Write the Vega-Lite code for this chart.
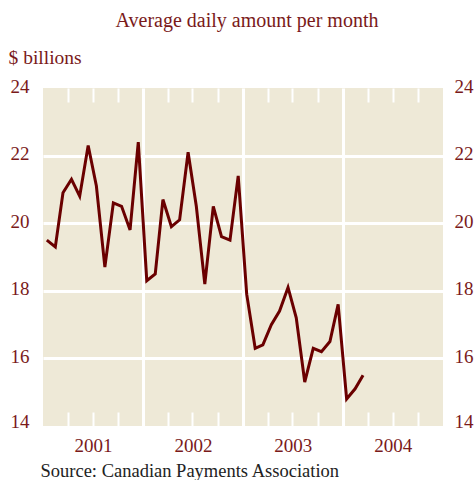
{
  "$schema": "https://vega.github.io/schema/vega-lite/v6.json",
  "width": 400,
  "height": 338,
  "autosize": {"type": "none"},
  "padding": {"left": 43, "top": 88, "right": 32, "bottom": 54},
  "background": "white",
  "config": {
    "view": {"fill": "#eee9d7", "stroke": null},
    "font": "Liberation Serif",
    "axis": {"labelFont": "Liberation Serif", "labelFontSize": 19, "labelColor": "#7a1a1a", "titleFont": "Liberation Serif", "titleFontWeight": "normal"}
  },
  "title": {
    "text": "Average daily amount per month",
    "font": "Liberation Serif",
    "fontSize": 20,
    "fontWeight": "normal",
    "color": "#7a1a1a",
    "anchor": "middle",
    "baseline": "alphabetic",
    "offset": 0,
    "dx": 4
  },
  "data": {
    "values": [
      {"date": "2001-01-15", "value": 19.5},
      {"date": "2001-02-15", "value": 19.3},
      {"date": "2001-03-15", "value": 20.9},
      {"date": "2001-04-15", "value": 21.3},
      {"date": "2001-05-15", "value": 20.8},
      {"date": "2001-06-15", "value": 22.3},
      {"date": "2001-07-15", "value": 21.1},
      {"date": "2001-08-15", "value": 18.7},
      {"date": "2001-09-15", "value": 20.6},
      {"date": "2001-10-15", "value": 20.5},
      {"date": "2001-11-15", "value": 19.8},
      {"date": "2001-12-15", "value": 22.4},
      {"date": "2002-01-15", "value": 18.3},
      {"date": "2002-02-15", "value": 18.5},
      {"date": "2002-03-15", "value": 20.7},
      {"date": "2002-04-15", "value": 19.9},
      {"date": "2002-05-15", "value": 20.1},
      {"date": "2002-06-15", "value": 22.1},
      {"date": "2002-07-15", "value": 20.5},
      {"date": "2002-08-15", "value": 18.2},
      {"date": "2002-09-15", "value": 20.5},
      {"date": "2002-10-15", "value": 19.6},
      {"date": "2002-11-15", "value": 19.5},
      {"date": "2002-12-15", "value": 21.4},
      {"date": "2003-01-15", "value": 17.9},
      {"date": "2003-02-15", "value": 16.3},
      {"date": "2003-03-15", "value": 16.4},
      {"date": "2003-04-15", "value": 17.0},
      {"date": "2003-05-15", "value": 17.4},
      {"date": "2003-06-15", "value": 18.1},
      {"date": "2003-07-15", "value": 17.2},
      {"date": "2003-08-15", "value": 15.3},
      {"date": "2003-09-15", "value": 16.3},
      {"date": "2003-10-15", "value": 16.2},
      {"date": "2003-11-15", "value": 16.5},
      {"date": "2003-12-15", "value": 17.6},
      {"date": "2004-01-15", "value": 14.8},
      {"date": "2004-02-15", "value": 15.1},
      {"date": "2004-03-15", "value": 15.5}
    ]
  },
  "resolve": {"axis": {"x": "independent", "y": "independent"}},
  "layer": [
    {
      "mark": {"type": "line", "color": "#6a0000", "strokeWidth": 3, "strokeJoin": "miter", "clip": true},
      "encoding": {
        "x": {
          "field": "date", "type": "temporal",
          "scale": {"type": "utc", "domain": [{"year": 2001, "month": 1, "date": 1, "utc": true}, {"year": 2005, "month": 1, "date": 1, "utc": true}]},
          "axis": {
            "orient": "bottom",
            "values": [
              {"year": 2001, "month": 1, "date": 1, "utc": true},
              {"year": 2002, "month": 1, "date": 1, "utc": true},
              {"year": 2003, "month": 1, "date": 1, "utc": true},
              {"year": 2004, "month": 1, "date": 1, "utc": true}
            ],
            "format": "%Y",
            "labelOffset": 50,
            "labelPadding": 25,
            "labelBaseline": "alphabetic",
            "labelAlign": "center",
            "ticks": false,
            "tickSize": 0,
            "domain": false,
            "grid": true,
            "gridColor": "white",
            "gridWidth": 3,
            "gridOpacity": {"condition": {"test": "utcyear(datum.value) > 2001", "value": 1}, "value": 0},
            "title": "Source: Canadian Payments Association",
            "titleFontSize": 18.5,
            "titleColor": "#222222",
            "titleAlign": "left",
            "titleAnchor": "start",
            "titleBaseline": "alphabetic",
            "titleX": -3,
            "titleY": 50
          }
        },
        "y": {
          "field": "value", "type": "quantitative",
          "scale": {"domain": [14, 24], "nice": false, "zero": false},
          "axis": {
            "orient": "left",
            "values": [14, 16, 18, 20, 22, 24],
            "ticks": false,
            "tickSize": 0,
            "domain": false,
            "labelPadding": 14,
            "labelAlign": "right",
            "labelBaseline": "middle",
            "labelOffset": {"condition": {"test": "datum.value == 14", "value": -5}, "value": -2},
            "grid": true,
            "gridColor": "white",
            "gridWidth": 3,
            "gridOpacity": {"condition": {"test": "datum.value > 14 && datum.value < 24", "value": 1}, "value": 0},
            "title": "$ billions",
            "titleFontSize": 19.5,
            "titleColor": "#7a1a1a",
            "titleAngle": 0,
            "titleAlign": "left",
            "titleBaseline": "alphabetic",
            "titleX": -35,
            "titleY": -25
          }
        }
      }
    },
    {
      "mark": {"type": "line", "strokeOpacity": 0},
      "encoding": {
        "x": {
          "field": "date", "type": "temporal",
          "axis": {
            "orient": "top",
            "values": [
              {"year": 2001, "month": 4, "date": 1, "utc": true},
              {"year": 2001, "month": 7, "date": 1, "utc": true},
              {"year": 2001, "month": 10, "date": 1, "utc": true},
              {"year": 2002, "month": 4, "date": 1, "utc": true},
              {"year": 2002, "month": 7, "date": 1, "utc": true},
              {"year": 2002, "month": 10, "date": 1, "utc": true},
              {"year": 2003, "month": 4, "date": 1, "utc": true},
              {"year": 2003, "month": 7, "date": 1, "utc": true},
              {"year": 2003, "month": 10, "date": 1, "utc": true},
              {"year": 2004, "month": 4, "date": 1, "utc": true},
              {"year": 2004, "month": 7, "date": 1, "utc": true},
              {"year": 2004, "month": 10, "date": 1, "utc": true}
            ],
            "labels": false,
            "domain": false,
            "grid": false,
            "ticks": true,
            "tickColor": "white",
            "tickWidth": 2,
            "tickSize": -14,
            "title": null
          }
        },
        "y": {
          "field": "value", "type": "quantitative",
          "axis": {
            "orient": "right",
            "values": [14, 16, 18, 20, 22, 24],
            "ticks": false,
            "tickSize": 0,
            "domain": false,
            "grid": false,
            "labelPadding": 11,
            "labelAlign": "left",
            "labelBaseline": "middle",
            "labelOffset": {"condition": {"test": "datum.value == 14", "value": -5}, "value": -2},
            "title": null
          }
        }
      }
    },
    {
      "mark": {"type": "line", "strokeOpacity": 0},
      "encoding": {
        "x": {
          "field": "date", "type": "temporal",
          "axis": {
            "orient": "bottom",
            "values": [
              {"year": 2001, "month": 4, "date": 1, "utc": true},
              {"year": 2001, "month": 7, "date": 1, "utc": true},
              {"year": 2001, "month": 10, "date": 1, "utc": true},
              {"year": 2002, "month": 4, "date": 1, "utc": true},
              {"year": 2002, "month": 7, "date": 1, "utc": true},
              {"year": 2002, "month": 10, "date": 1, "utc": true},
              {"year": 2003, "month": 4, "date": 1, "utc": true},
              {"year": 2003, "month": 7, "date": 1, "utc": true},
              {"year": 2003, "month": 10, "date": 1, "utc": true},
              {"year": 2004, "month": 4, "date": 1, "utc": true},
              {"year": 2004, "month": 7, "date": 1, "utc": true},
              {"year": 2004, "month": 10, "date": 1, "utc": true}
            ],
            "labels": false,
            "domain": false,
            "grid": false,
            "ticks": true,
            "tickColor": "white",
            "tickWidth": 2,
            "tickSize": -14,
            "title": null
          }
        },
        "y": {
          "field": "value", "type": "quantitative",
          "axis": null
        }
      }
    }
  ]
}
